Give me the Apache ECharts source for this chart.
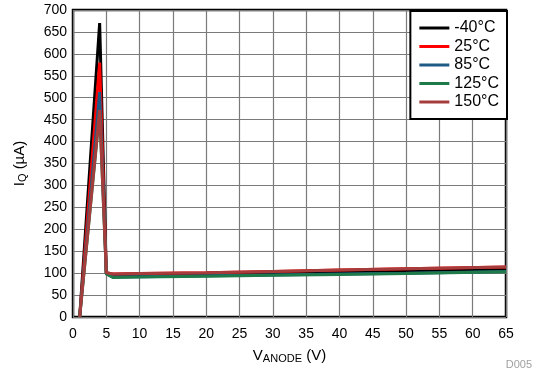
<!DOCTYPE html>
<html>
<head>
<meta charset="utf-8">
<script src="https://cdn.jsdelivr.net/npm/echarts@6/dist/echarts.min.js"></script>
<style>
html, body { margin: 0; padding: 0; background: #fff; }
#main { width: 538px; height: 378px; }
</style>
</head>
<body>
<div id="main"></div>
<script>
// anode voltage sample points (V)
var vAnode = [1, 4, 5, 6, 10, 20, 30, 40, 50, 65];
// quiescent current (uA) per temperature
var iqM40 = [0, 670, 99, 96, 97, 99, 101, 103, 105, 109];
var iq25 = [0, 580, 101, 98, 99, 101, 104, 107, 110, 114];
var iq85 = [0, 513, 99, 91, 92, 94, 96, 98, 100, 104];
var iq125 = [0, 468, 98, 90, 91, 93, 95, 97, 99, 103];
var iq150 = [0, 472, 101, 98, 99, 101, 104, 107, 110, 114];

var names = ['-40°C', '25°C', '85°C', '125°C', '150°C'];
var colors = ['#000000', '#ff0000', '#1f5a85', '#1f7a4a', '#a53d3d'];
var sets = [iqM40, iq25, iq85, iq125, iq150];

var pair = function(ys) {
	var out = [];
	for (var i = 0; i < vAnode.length; i++) {
		out.push([vAnode[i], ys[i]]);
	}
	return out;
};

var series = [];
for (var k = 0; k < sets.length; k++) {
	series.push({
		name: names[k],
		type: 'line',
		symbol: 'none',
		data: pair(sets[k]),
		lineStyle: { color: colors[k], width: 3 },
		itemStyle: { color: colors[k] },
		z: 3 + k
	});
}

var font = 'Liberation Sans, Arial, sans-serif';
var myChart = echarts.init(document.getElementById('main'));
myChart.setOption({
	animation: false,
	textStyle: { fontFamily: font },
	grid: {
		left: 73, right: 32, top: 10, bottom: 61,
		show: true, borderColor: '#000', borderWidth: 2.5
	},
	legend: {
		right: 31, top: 11,
		orient: 'vertical',
		backgroundColor: '#fff',
		borderColor: '#000',
		borderWidth: 2,
		padding: [9, 8, 9, 9],
		itemGap: 2.5,
		itemWidth: 30,
		itemHeight: 3,
		icon: 'rect',
		textStyle: { fontSize: 16, color: '#000', fontFamily: font },
		data: names
	},
	xAxis: {
		type: 'value', min: 0, max: 65, interval: 5,
		axisLine: { show: false },
		axisTick: { show: false },
		axisLabel: { fontSize: 14, color: '#000', margin: 10 },
		splitLine: { lineStyle: { color: '#7a7a7a', width: 1.2 } },
		name: 'V{s|ANODE} (V)',
		nameLocation: 'middle',
		nameGap: 30,
		nameTextStyle: {
			fontSize: 15, color: '#000',
			rich: { s: { fontSize: 11, color: '#000', verticalAlign: 'bottom', padding: [6, 0, 0, 0] } }
		}
	},
	yAxis: {
		type: 'value', min: 0, max: 700, interval: 50,
		axisLine: { show: false },
		axisTick: { show: false },
		axisLabel: { fontSize: 14, color: '#000', margin: 6 },
		splitLine: { lineStyle: { color: '#7a7a7a', width: 1.2 } },
		name: 'I{s|Q} (µA)',
		nameLocation: 'middle',
		nameRotate: 90,
		nameGap: 45,
		nameTextStyle: {
			fontSize: 15, color: '#000',
			rich: { s: { fontSize: 11, color: '#000', verticalAlign: 'bottom', padding: [6, 0, 0, 0] } }
		}
	},
	graphic: [{
		type: 'text', right: 6, bottom: 8,
		style: { text: 'D005', fill: '#a0a0a0', fontSize: 11, fontFamily: font }
	}],
	series: series
});
</script>
</body>
</html>
